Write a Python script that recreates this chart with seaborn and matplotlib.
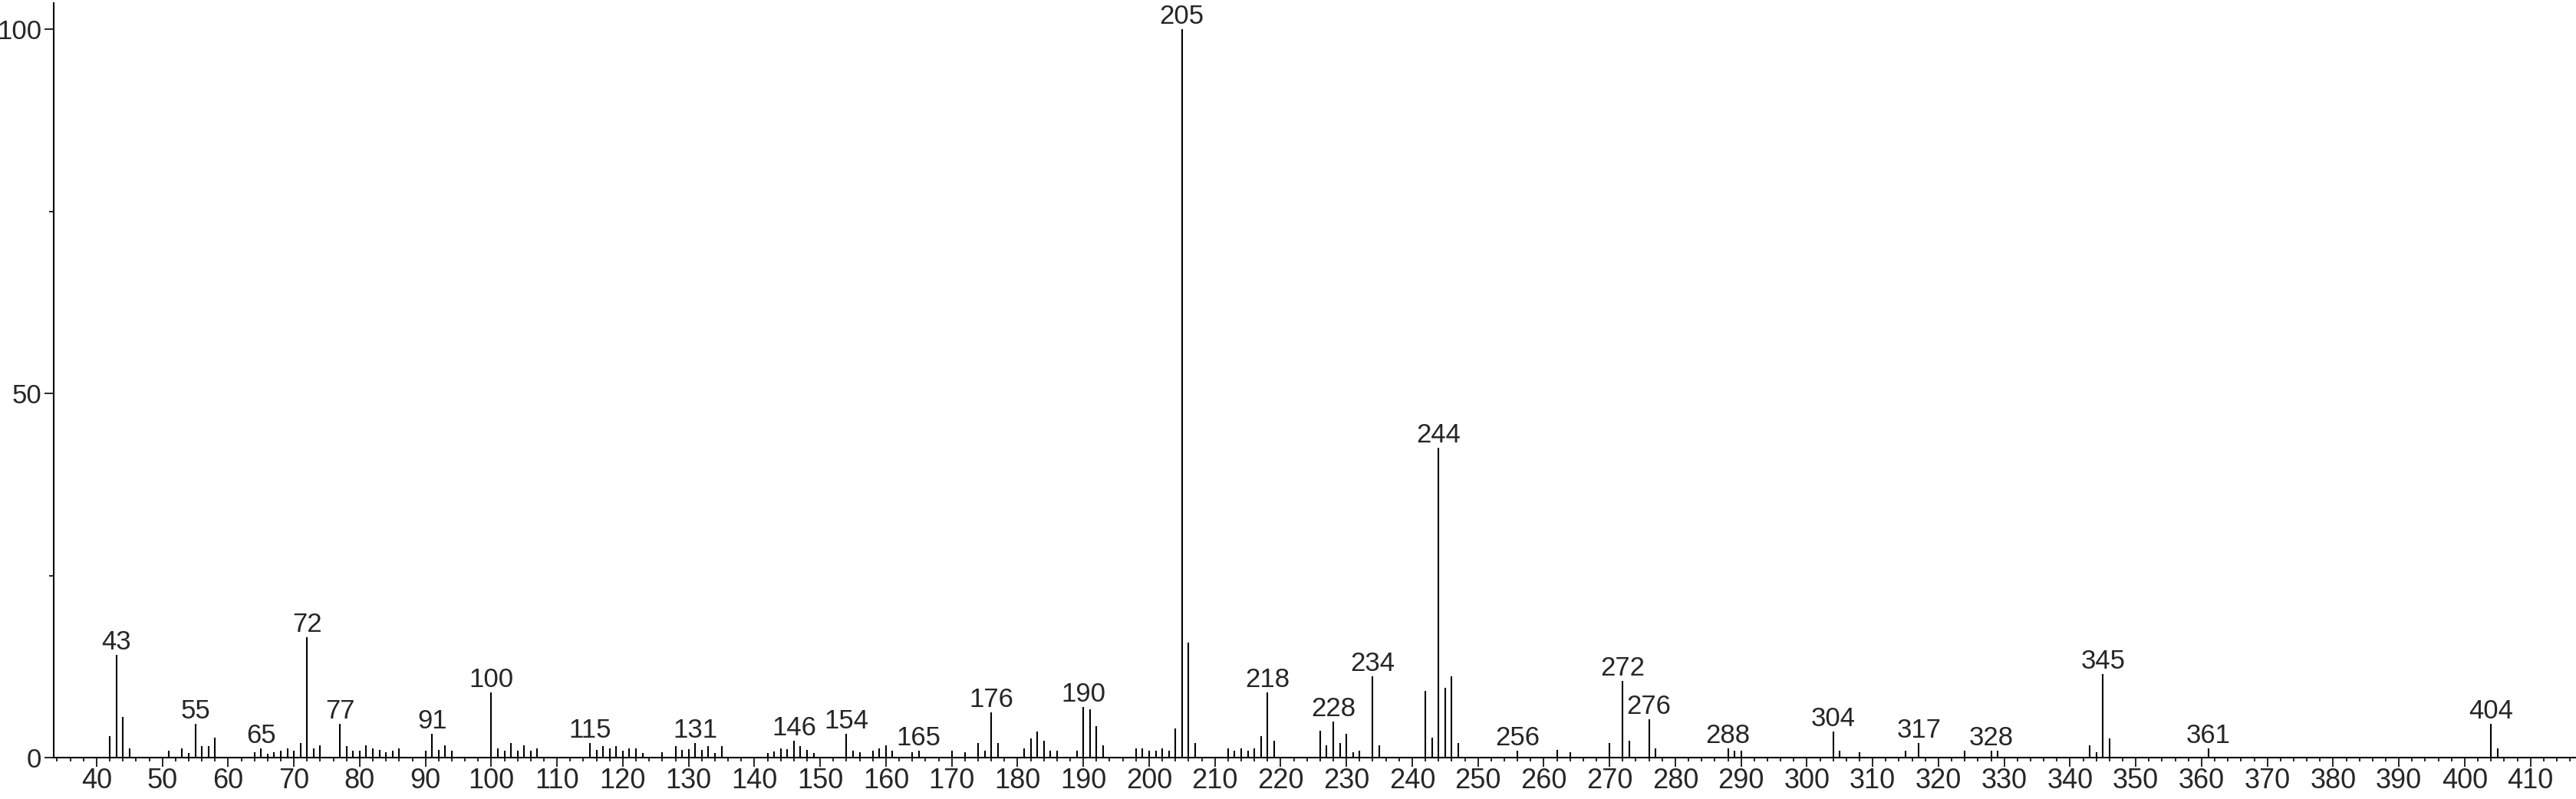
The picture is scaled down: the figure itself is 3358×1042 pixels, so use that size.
"""
Mass spectrum stick plot (relative abundance vs m/z).
"""
import matplotlib
matplotlib.use("Agg")
import matplotlib.pyplot as plt
from matplotlib.ticker import MultipleLocator, FixedLocator
import seaborn as sns

sns.set_style("ticks")
plt.rcParams["font.family"] = ["Liberation Sans", "DejaVu Sans"]

# m/z values and relative intensities
MZ = [42, 43, 44, 45, 51, 53, 54, 55, 56, 57, 58, 64, 65, 66, 67, 68, 69, 70, 71, 72,
      73, 74, 77, 78, 79, 80, 81, 82, 83, 84, 85, 86, 90, 91, 92, 93, 94, 100, 101, 102,
      103, 104, 105, 106, 107, 115, 116, 117, 118, 119, 120, 121, 122, 123, 126, 128, 129,
      130, 131, 132, 133, 134, 135, 142, 143, 144, 145, 146, 147, 148, 149, 154, 155, 156,
      158, 159, 160, 161, 164, 165, 170, 172, 174, 175, 176, 177, 181, 182, 183, 184, 185,
      186, 189, 190, 191, 192, 193, 198, 199, 200, 201, 202, 203, 204, 205, 206, 207, 212,
      213, 214, 215, 216, 217, 218, 219, 226, 227, 228, 229, 230, 231, 232, 234, 235, 242,
      243, 244, 245, 246, 247, 256, 262, 264, 270, 272, 273, 276, 277, 288, 289, 290, 304,
      305, 308, 315, 317, 324, 328, 329, 343, 344, 345, 346, 361, 404, 405]
INTENSITY = [3.0, 14.1, 5.6, 1.3, 1.0, 1.3, 0.6, 4.6, 1.6, 1.6, 2.7, 0.7, 1.3, 0.5, 0.7, 1.0,
             1.3, 1.0, 2.0, 16.5, 1.3, 1.7, 4.6, 1.6, 1.0, 0.9, 1.7, 1.3, 1.05, 0.7, 1.0, 1.3,
             1.0, 3.3, 1.05, 1.7, 1.0, 8.9, 1.3, 0.9, 2.0, 1.0, 1.7, 1.0, 1.3, 2.0, 1.05, 1.6,
             1.3, 1.6, 0.9, 1.3, 1.3, 0.6, 0.7, 1.6, 1.05, 1.2, 2.0, 1.05, 1.6, 0.6, 1.6, 0.6,
             0.8, 1.3, 1.2, 2.35, 1.6, 1.05, 0.6, 3.3, 1.0, 0.7, 1.0, 1.3, 1.7, 1.0, 0.7, 1.0,
             1.0, 0.7, 2.0, 1.0, 6.2, 2.0, 1.3, 2.65, 3.6, 2.35, 1.0, 1.0, 1.0, 6.9, 6.6, 4.3,
             1.7, 1.3, 1.3, 0.9, 1.0, 1.3, 1.0, 4.0, 100.0, 15.8, 2.0, 1.3, 0.9, 1.3, 1.0, 1.3,
             3.0, 8.9, 2.3, 3.7, 1.7, 4.9, 2.0, 3.3, 0.7, 1.0, 11.2, 1.7, 9.2, 2.7, 42.5, 9.6,
             11.2, 2.0, 1.0, 1.05, 0.7, 2.0, 10.5, 2.3, 5.3, 1.3, 1.3, 1.0, 1.0, 3.6, 1.0, 0.7,
             1.0, 2.0, 1.0, 1.0, 1.0, 1.7, 0.7, 11.5, 2.6, 1.3, 4.6, 1.3]

# peaks carrying an m/z label
LABELED = [43, 55, 65, 72, 77, 91, 100, 115, 131, 146, 154, 165, 176, 190, 205, 218,
           228, 234, 244, 256, 272, 276, 288, 304, 317, 328, 345, 361, 404]

X_TICKS = list(range(40, 411, 10))
Y_TICKS = [0, 50, 100]

fig = plt.figure(figsize=(33.58, 10.42), dpi=100)
ax = fig.add_axes([0.0209, 0.0518, 0.9788, 0.9444])

ax.vlines(MZ, 0, INTENSITY, color="black", lw=1.5)
lookup = dict(zip(MZ, INTENSITY))
for m in LABELED:
    ax.annotate(str(m), (m, lookup[m]), xytext=(0, 0), textcoords="offset points",
                ha="center", va="bottom", fontsize=25)

ax.set_xlim(33.5, 416.8)
ax.set_ylim(0, 103.6)
ax.set_xticks(X_TICKS)
ax.xaxis.set_minor_locator(MultipleLocator(2))
ax.set_yticks(Y_TICKS)
ax.yaxis.set_minor_locator(FixedLocator([25, 75]))
ax.tick_params(axis="x", which="major", direction="out", length=8.6, width=1.4,
               labelsize=26, pad=1)
ax.tick_params(axis="x", which="minor", direction="out", length=3.6, width=1.4)
ax.tick_params(axis="y", which="major", direction="out", length=8.6, width=1.4,
               labelsize=25, pad=3)
ax.tick_params(axis="y", which="minor", direction="out", length=4.3, width=1.4)
sns.despine(ax=ax)
for s in ("left", "bottom"):
    ax.spines[s].set_linewidth(1.5)
    ax.spines[s].set_color("black")

fig.savefig("out.png", dpi=100)
